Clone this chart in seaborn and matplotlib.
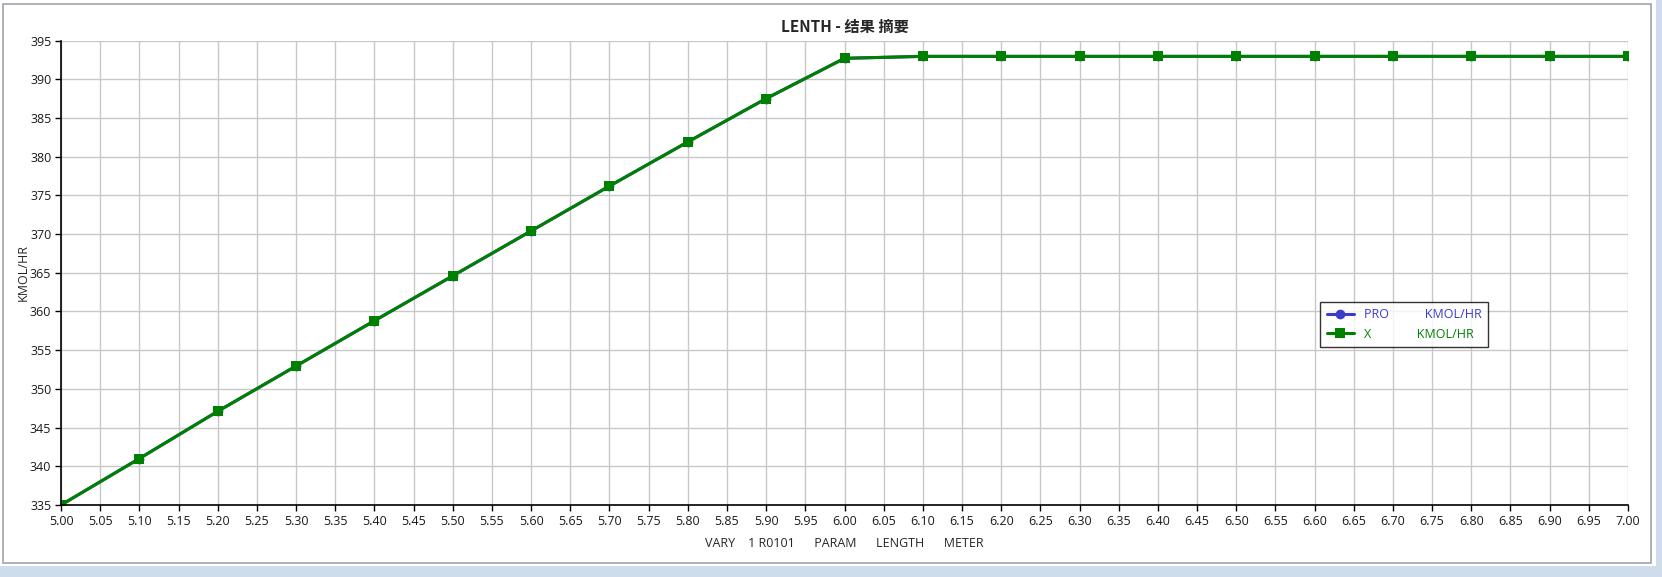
import numpy as np
import pandas as pd
import seaborn as sns
import matplotlib.pyplot as plt
from matplotlib.patches import Rectangle

# sensitivity result: LENGTH vs flow
length = [5.0, 5.1, 5.2, 5.3, 5.4, 5.5, 5.6, 5.7, 5.8, 5.9,
          6.0, 6.1, 6.2, 6.3, 6.4, 6.5, 6.6, 6.7, 6.8, 6.9, 7.0]
pro = [335.0, 341.0, 347.1, 352.95, 358.8, 364.6, 370.4, 376.2, 381.9, 387.5,
       392.7, 392.95, 392.95, 392.95, 392.95, 392.95, 392.95, 392.95, 392.95, 392.95, 392.95]
x_flow = list(pro)

xticks = np.round(np.arange(5.0, 7.0001, 0.05), 2)
yticks = np.arange(335, 396, 5)

sns.set_theme(style="white")
plt.rcParams['font.family'] = ['Open Sans', 'Noto Sans CJK SC', 'DejaVu Sans']

fig = plt.figure(figsize=(16.62, 5.77), dpi=100)
ax = fig.add_axes([61/1662, 1 - 505/577, (1628 - 61)/1662, (505 - 40.5)/577])

df = pd.DataFrame({"len": length, "pro": pro, "x": x_flow})
sns.lineplot(data=df, x="len", y="pro", ax=ax, color="#3c3cc8", marker="o",
             markersize=7, markeredgewidth=0, linewidth=2.2,
             label="PRO           KMOL/HR")
sns.lineplot(data=df, x="len", y="x", ax=ax, color="#008000", marker="s",
             markersize=7, markeredgewidth=0, linewidth=2.2,
             label="X              KMOL/HR")

ax.set_xlim(5.0, 7.0)
ax.set_ylim(335, 395)
ax.set_xticks(xticks)
ax.set_xticklabels([f"{t:.2f}" for t in xticks])
ax.set_yticks(yticks)
ax.grid(True, color="#c8c8c8", linewidth=1)
ax.set_axisbelow(True)
for s in ["top", "right"]:
    ax.spines[s].set_visible(False)
for s in ["left", "bottom"]:
    ax.spines[s].set_color("black")
    ax.spines[s].set_linewidth(1.2)
ax.tick_params(axis="both", direction="out", length=4, width=1, color="black",
               labelsize=9, pad=3, left=True, bottom=True)
for lab in ax.get_xticklabels() + ax.get_yticklabels():
    lab.set_color("#1a1a1a")

ax.set_xlabel("VARY    1 R0101      PARAM      LENGTH      METER", fontsize=9, labelpad=7)
ax.set_ylabel("KMOL/HR", fontsize=9, labelpad=0)
ax.set_title("LENTH - 结果 摘要", fontsize=11, fontweight="bold",
             family=['Noto Sans CJK SC', 'DejaVu Sans'], pad=6)

leg = ax.legend(loc="upper left", bbox_to_anchor=((1314 - 61)/1567, (505 - 296)/464.5),
                frameon=True, fancybox=False, edgecolor="black", fontsize=9,
                labelcolor="linecolor", handlelength=2.2, borderpad=0.5,
                labelspacing=0.5)
leg.get_frame().set_linewidth(1)

# window frame
fig.patches.append(Rectangle((3/1662, 1 - 563/577), 1648/1662, 559/577,
                             transform=fig.transFigure, fill=False,
                             edgecolor="#a0a4aa", linewidth=1.2))
fig.patches.append(Rectangle((0, 0), 1, 1 - 566/577, transform=fig.transFigure,
                             facecolor="#cfdcec", edgecolor="none"))
fig.patches.append(Rectangle((1 - 6/1662, 0), 6/1662, 1, transform=fig.transFigure,
                             facecolor="#cfdcec", edgecolor="none"))

fig.savefig("out.png", dpi=100)
